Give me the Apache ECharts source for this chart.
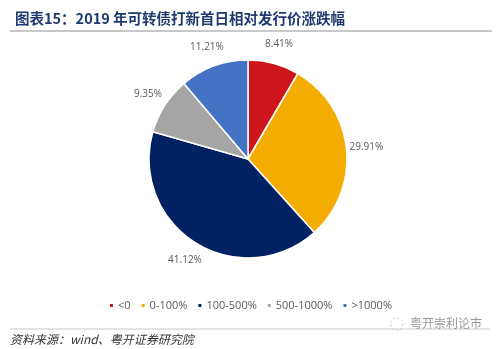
<!DOCTYPE html>
<html><head><meta charset="utf-8">
<script src="https://cdn.jsdelivr.net/npm/echarts@6/dist/echarts.min.js"></script>
<style>html,body{margin:0;padding:0;background:#fff}#c{width:500px;height:349px}</style>
</head><body><div id="c"></div>
<script>
var categories = ['<0', '0-100%', '100-500%', '500-1000%', '>1000%'];
var values = [8.41, 29.91, 41.12, 9.35, 11.21];
var colors = ['#CC161C', '#F5AC00', '#002263', '#A5A5A5', '#4472C4'];

var chart = echarts.init(document.getElementById('c'));
var mainData = categories.map(function (n, i) { return { name: n, value: values[i], itemStyle: { color: colors[i] } }; });
var labelData = categories.map(function (n, i) { return { name: n, value: values[i] }; });
chart.setOption({
  animation: false,
  title: {
    text: '图表15：2019 年可转债打新首日相对发行价涨跌幅',
    left: 10, top: 6,
    textStyle: { fontFamily: 'Noto Sans CJK SC', fontWeight: 'bold', fontSize: 14.5, color: '#1F3A70' }
  },
  legend: {
    data: categories,
    top: 295, left: 'center',
    itemWidth: 5, itemHeight: 5, itemGap: 9, icon: 'rect',
    textStyle: { fontFamily: 'Open Sans', fontSize: 11, color: '#595959', padding: [0, 0, 0, -1] }
  },
  graphic: [
    { type: 'line', shape: { x1: 10, y1: 31, x2: 492, y2: 31 }, style: { stroke: '#C8C8C8', lineWidth: 2 } },
    { type: 'line', shape: { x1: 10, y1: 329, x2: 490, y2: 329 }, style: { stroke: '#C8C8C8', lineWidth: 1 } },
    { type: 'text', left: 10, top: 333, style: { text: '资料来源：wind、粤开证券研究院', fontFamily: 'Noto Sans CJK SC', fontStyle: 'italic', fontSize: 12, fill: '#333333' } },
    { type: 'circle', shape: { cx: 397, cy: 324, r: 6 }, style: { fill: 'none', stroke: '#C8C8C8', lineWidth: 1, lineDash: [2, 2] } },
    { type: 'text', left: 410, top: 317, style: { text: '粤开崇利论市', fontFamily: 'Noto Sans CJK SC', fontSize: 12, fill: '#9A9A9A' } }
  ],
  series: [
    {
      type: 'pie', name: 'main',
      center: [248, 159], radius: [0, 99],
      startAngle: 90, clockwise: true,
      label: { show: false }, labelLine: { show: false },
      itemStyle: { borderColor: '#ffffff', borderWidth: 1.5 },
      emphasis: { disabled: true },
      data: mainData
    },
    {
      type: 'pie', name: 'labels', silent: true,
      center: [248, 159], radius: [106, 126],
      startAngle: 90, clockwise: true,
      itemStyle: { color: 'rgba(0,0,0,0)' },
      label: { show: true, position: 'inside', formatter: function (p) { return p.value.toFixed(2) + '%'; },
        fontFamily: 'Open Sans', fontSize: 10, color: '#595959' },
      labelLine: { show: false },
      emphasis: { disabled: true },
      data: labelData
    }
  ]
});
</script></body></html>
